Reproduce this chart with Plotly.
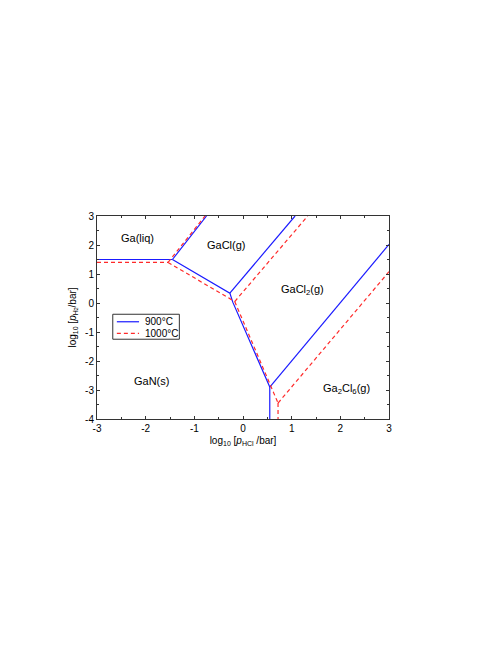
import plotly.graph_objects as go

# 900°C boundaries (blue, solid)
b900_segments = [
    ([-3.0, -1.45], [1.5, 1.5]),
    ([-1.45, -0.75], [1.5, 3.0]),
    ([-1.45, -0.27, -0.21, 0.55], [1.5, 0.34, 0.03, -2.9]),
    ([-0.27, 1.07], [0.34, 3.0]),
    ([0.55, 0.55], [-2.9, -4.0]),
    ([0.55, 3.0], [-2.9, 2.02]),
]
# 1000°C boundaries (red, dashed)
r1000_segments = [
    ([-3.0, -1.54], [1.4, 1.4]),
    ([-1.54, -0.78], [1.4, 3.0]),
    ([-1.54, -0.17], [1.4, 0.05]),
    ([-0.17, 1.33], [0.05, 3.0]),
    ([-0.17, 0.72], [0.05, -3.45]),
    ([0.72, 0.72], [-3.45, -4.0]),
    ([0.72, 3.0], [-3.45, 1.08]),
]
region_labels = ["Ga(liq)", "GaCl(g)", "GaCl<sub>2</sub>(g)", "GaN(s)", "Ga<sub>2</sub>Cl<sub>6</sub>(g)"]
label_x = [-2.16, -0.34, 1.23, -1.88, 2.13]
label_y = [2.24, 2.0, 0.45, -2.68, -2.97]

x_ticks = [-3, -2, -1, 0, 1, 2, 3]
x_ticktext = ["-3", "-2", "-1", "0", "1", "2", "3"]
y_ticks = [-4, -3, -2, -1, 0, 1, 2, 3]
y_ticktext = ["-4", "-3", "-2", "-1", "0", "1", "2", "3"]

legend_names = ["900°C", "1000°C"]

BLUE = "#1a1aff"
RED = "#ff2a2a"
FONT = "Liberation Sans, Arial"

fig = go.Figure()
for xs, ys in b900_segments:
    fig.add_trace(go.Scatter(x=xs, y=ys, mode="lines",
                             line=dict(color=BLUE, width=1.2),
                             name=legend_names[0], showlegend=False))
for xs, ys in r1000_segments:
    fig.add_trace(go.Scatter(x=xs, y=ys, mode="lines",
                             line=dict(color=RED, width=1.2, dash="4px,3px"),
                             name=legend_names[1], showlegend=False))

for t, x, y in zip(region_labels, label_x, label_y):
    fig.add_annotation(x=x, y=y, text=t, showarrow=False,
                       font=dict(size=11, color="black", family=FONT))

# custom compact legend (paper coordinates)
fig.add_shape(type="rect", xref="paper", yref="paper", x0=0.054, x1=0.282, y0=0.393, y1=0.516,
              line=dict(color="#333", width=1), fillcolor="white")
for name, col, dash, yy in [(legend_names[0], BLUE, "solid", 0.479),
                            (legend_names[1], RED, "4px,3px", 0.422)]:
    fig.add_shape(type="line", xref="paper", yref="paper", x0=0.068, x1=0.144, y0=yy, y1=yy,
                  line=dict(color=col, width=1.2, dash=dash))
    fig.add_annotation(xref="paper", yref="paper", x=0.158, y=yy, text=name, showarrow=False,
                       xanchor="left", yanchor="middle",
                       font=dict(size=10, color="black", family=FONT))

axis_common = dict(
    showgrid=False, zeroline=False, showline=True, linecolor="#333", linewidth=1,
    mirror="allticks", ticks="inside", ticklen=3, tickcolor="#333",
    tickfont=dict(size=10, color="black", family=FONT),
    minor=dict(ticks="inside", ticklen=2, dtick=0.5, tickcolor="#333"),
)
fig.update_xaxes(range=[-3, 3], tickvals=x_ticks, ticktext=x_ticktext, **axis_common,
                 title=dict(text="log<sub>10</sub> [<i>p</i><sub>HCl</sub> /bar]",
                            font=dict(size=10, color="black", family=FONT),
                            standoff=3))
fig.update_yaxes(range=[-4, 3], tickvals=y_ticks, ticktext=y_ticktext, **axis_common,
                 title=dict(text="log<sub>10</sub> [<i>p</i><sub>H<span style='font-size:5px'>2</span></sub>/bar]",
                            font=dict(size=10, color="black", family=FONT),
                            standoff=6))

fig.update_layout(
    width=490, height=637,
    margin=dict(l=89, r=109, t=208, b=226),
    paper_bgcolor="white", plot_bgcolor="white",
    showlegend=False,
)
fig.write_html("out.html")
